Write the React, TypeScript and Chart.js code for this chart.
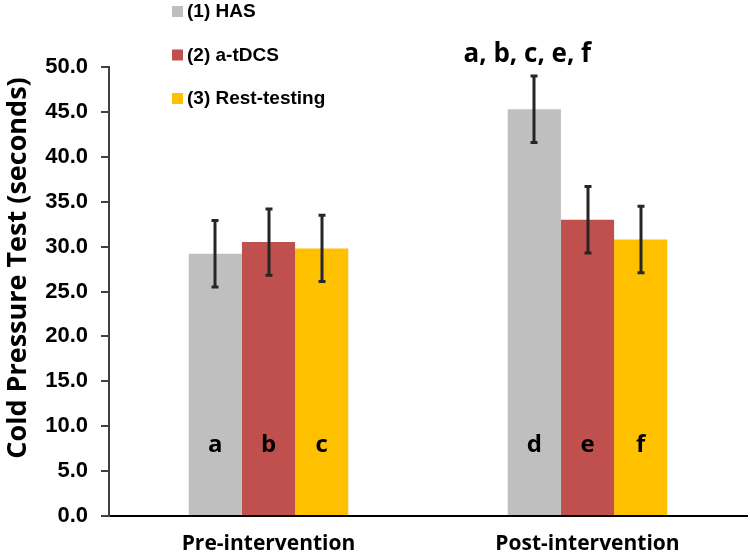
import React, { useEffect, useRef } from "react";
import { Chart, registerables } from "chart.js";

Chart.register(...registerables);

const categories = ["Pre-intervention", "Post-intervention"];
const seriesNames = ["(1) HAS", "(2) a-tDCS", "(3) Rest-testing"];
const seriesColors = ["#BFBFBF", "#C0504D", "#FFC000"];
const hasValues = [29.2, 45.3];
const tdcsValues = [30.5, 33.0];
const restValues = [29.8, 30.8];
const hasErrors = [3.7, 3.7];
const tdcsErrors = [3.7, 3.7];
const restErrors = [3.7, 3.7];
const barLetters = [
  ["a", "d"],
  ["b", "e"],
  ["c", "f"],
];
const letterValue = 7.9;
const postNote = "a, b, c, e, f";
const postNoteValue = 51.4;
const yTitle = "Cold Pressure Test (seconds)";

const allValues = [hasValues, tdcsValues, restValues];
const allErrors = [hasErrors, tdcsErrors, restErrors];

const overlayPlugin = {
  id: "overlay",
  afterDatasetsDraw(chart: any) {
    const ctx = chart.ctx;
    const y = chart.scales.y;
    ctx.save();
    // error bars
    allValues.forEach((vals, i) => {
      const meta = chart.getDatasetMeta(i);
      vals.forEach((v, j) => {
        const el = meta.data[j];
        const x = Math.round(el.x);
        const top = y.getPixelForValue(v + allErrors[i][j]);
        const bot = y.getPixelForValue(v - allErrors[i][j]);
        ctx.strokeStyle = "#262626";
        ctx.lineWidth = 3;
        ctx.beginPath();
        ctx.moveTo(x, top);
        ctx.lineTo(x, bot);
        ctx.moveTo(x - 3.5, top);
        ctx.lineTo(x + 3.5, top);
        ctx.moveTo(x - 3.5, bot);
        ctx.lineTo(x + 3.5, bot);
        ctx.stroke();
        // letters
        ctx.fillStyle = "#000";
        ctx.font = "bold 24px 'Open Sans'";
        ctx.textAlign = "center";
        ctx.textBaseline = "middle";
        ctx.fillText(barLetters[i][j], el.x, y.getPixelForValue(letterValue));
      });
    });
    // post annotation
    const m0 = chart.getDatasetMeta(0);
    ctx.font = "bold 26px 'Open Sans'";
    ctx.textAlign = "center";
    ctx.textBaseline = "middle";
    ctx.fillStyle = "#000";
    ctx.fillText(postNote, m0.data[1].x - 7, y.getPixelForValue(postNoteValue));
    // y title
    ctx.save();
    ctx.translate(18, 268);
    ctx.rotate(-Math.PI / 2);
    ctx.font = "bold 27px 'Open Sans'";
    ctx.textAlign = "center";
    ctx.textBaseline = "middle";
    ctx.fillText(yTitle, 0, 0);
    ctx.restore();
    // legend
    ctx.font = "bold 19px 'Liberation Sans', Arial";
    ctx.textAlign = "left";
    ctx.textBaseline = "middle";
    seriesNames.forEach((name, i) => {
      const cy = 11 + i * 43.5;
      ctx.fillStyle = seriesColors[i];
      ctx.fillRect(172, cy - 5, 11, 11);
      ctx.fillStyle = "#000";
      ctx.fillText(name, 187, cy + 1);
    });
    ctx.restore();
  },
};

export default function App() {
  const ref = useRef<HTMLCanvasElement>(null);
  useEffect(() => {
    if (!ref.current) return;
    const chart = new Chart(ref.current, {
      type: "bar",
      data: {
        labels: categories,
        datasets: allValues.map((vals, i) => ({
          label: seriesNames[i],
          data: vals,
          backgroundColor: seriesColors[i],
          borderWidth: 0,
          categoryPercentage: 0.5,
          barPercentage: 1,
        })),
      },
      options: {
        responsive: false,
        animation: false,
        layout: { padding: { top: 67, right: 3, left: 0, bottom: 0 } },
        plugins: {
          legend: { display: false },
          tooltip: { enabled: false },
        },
        scales: {
          x: {
            grid: { display: false },
            border: { display: true, color: "#000", width: 2 },
            ticks: {
              color: "#000",
              font: { family: "'Open Sans'", weight: "bold", size: 21 },
              padding: 7,
            },
            afterFit(scale: any) {
              scale.height = 38;
            },
          },
          y: {
            min: 0,
            max: 50,
            ticks: {
              stepSize: 5,
              color: "#000",
              padding: 13,
              font: { family: "'Liberation Sans', Arial", weight: "bold", size: 22 },
              callback: (v: any) => Number(v).toFixed(1),
            },
            grid: {
              drawOnChartArea: false,
              drawTicks: true,
              tickLength: 8,
              color: "#404040",
              lineWidth: 2,
            },
            border: { display: true, color: "#404040", width: 2 },
            afterFit(scale: any) {
              scale.width = 109;
            },
          },
        },
      },
      plugins: [overlayPlugin],
    });
    return () => chart.destroy();
  }, []);
  return (
    <div style={{ position: "absolute", left: 0, top: 0, width: 750, height: 554, background: "#fff" }}>
      <canvas ref={ref} width={750} height={554} />
    </div>
  );
}
